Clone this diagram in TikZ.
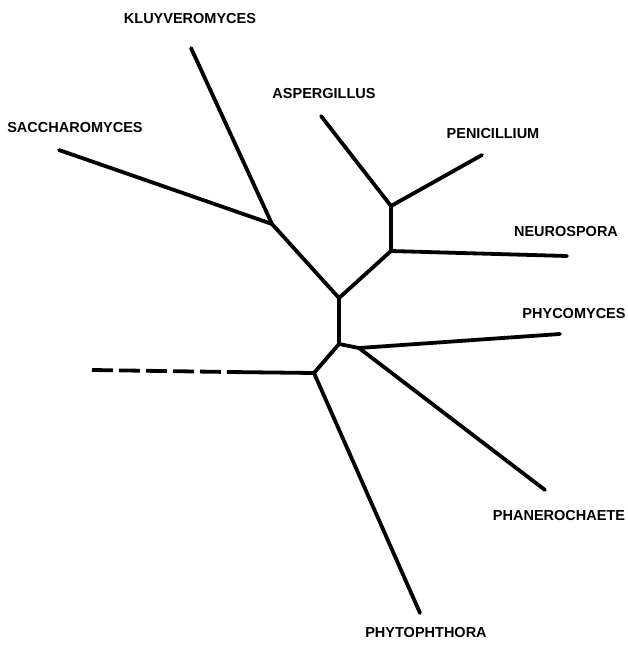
\documentclass[tikz,border=0pt]{standalone}
\usepackage{fontspec}
\setmainfont{Liberation Sans}
\begin{document}
\begin{tikzpicture}[x=1pt,y=-1pt,
  edge/.style={line width=3.8pt,line cap=round,line join=round},
  dashedge/.style={line width=3.8pt,dash pattern=on 21pt off 6pt},
  lbl/.style={font=\bfseries\fontsize{14.5}{16}\selectfont,inner sep=0pt}]
\useasboundingbox (0,0) rectangle (628,649);
% internal nodes
\coordinate (jks) at (272,224);
\coordinate (jup) at (339,298);
\coordinate (jlo) at (339,344);
\coordinate (jan) at (391,251);
\coordinate (jap) at (391,206);
\coordinate (jpp) at (359,348);
\coordinate (jph) at (314,373);
% tips
\coordinate (tk) at (191,48);
\coordinate (ts) at (59,150);
\coordinate (ta) at (321,116);
\coordinate (tpe) at (482,155);
\coordinate (tn) at (567,256);
\coordinate (tpy) at (560,334);
\coordinate (tpa) at (545,490);
\coordinate (tph) at (420,613);
\coordinate (tout) at (92,370);
\coordinate (dend) at (230,372);
% edges
\draw[edge] (tk) -- (jks);
\draw[edge] (ts) -- (jks);
\draw[edge] (jks) -- (jup);
\draw[edge] (jup) -- (jan);
\draw[edge] (jan) -- (jap);
\draw[edge] (jap) -- (ta);
\draw[edge] (jap) -- (tpe);
\draw[edge] (jan) -- (tn);
\draw[edge] (jup) -- (jlo);
\draw[edge] (jlo) -- (jpp);
\draw[edge] (jpp) -- (tpy);
\draw[edge] (jpp) -- (tpa);
\draw[edge] (jlo) -- (jph);
\draw[edge] (jph) -- (tph);
\draw[edge] (jph) -- (dend);
\draw[dashedge] (tout) -- (dend);
% labels
\node[lbl] (lk) at (190,19) {KLUYVEROMYCES};
\node[lbl] (ls) at (75,128) {SACCHAROMYCES};
\node[lbl] (la) at (324,94) {ASPERGILLUS};
\node[lbl] (lpe) at (493,134) {PENICILLIUM};
\node[lbl] (ln) at (566,232) {NEUROSPORA};
\node[lbl] (lpy) at (574,314) {PHYCOMYCES};
\node[lbl] (lpa) at (559,516) {PHANEROCHAETE};
\node[lbl] (lph) at (426,632) {PHYTOPHTHORA};
\end{tikzpicture}
\end{document}
